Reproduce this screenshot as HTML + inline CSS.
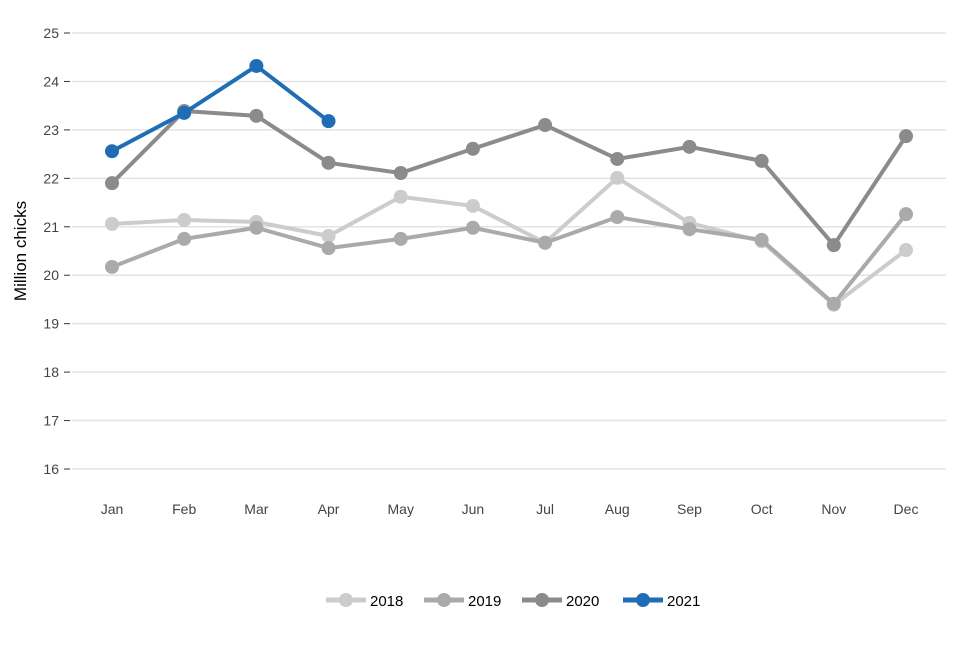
<!DOCTYPE html>
<html><head><meta charset="utf-8"><style>
body{margin:0;background:#fff;font-family:"Liberation Sans",sans-serif}
svg text{font-family:"Liberation Sans",sans-serif}
</style></head><body>
<svg id="c" width="960" height="640"></svg>
<script>
const months=["Jan","Feb","Mar","Apr","May","Jun","Jul","Aug","Sep","Oct","Nov","Dec"];
const yTicks=[16,17,18,19,20,21,22,23,24,25];
const years=["2018","2019","2020","2021"];
const colors=["#cccccc","#aaaaaa","#8c8a8a","#1f6db5"];
const s2018=[21.06,21.14,21.1,20.81,21.62,21.43,20.67,22.01,21.08,20.7,19.39,20.52];
const s2019=[20.17,20.75,20.98,20.56,20.75,20.98,20.67,21.2,20.95,20.73,19.41,21.26];
const s2020=[21.9,23.39,23.29,22.32,22.11,22.61,23.1,22.4,22.65,22.36,20.62,22.87];
const s2021=[22.56,23.35,24.32,23.18];
const series=[s2018,s2019,s2020,s2021];
const NS="http://www.w3.org/2000/svg",svg=document.getElementById('c');
const x=i=>112+i*(906-112)/11, y=v=>469-(v-16)*(469-33)/9;
function mk(t,a,p){const e=document.createElementNS(NS,t);for(const k in a)e.setAttribute(k,a[k]);(p||svg).appendChild(e);return e;}
yTicks.forEach(t=>{
 const g=mk('line',{x1:72,x2:946,y1:y(t),y2:y(t),stroke:'#e3e3e3','stroke-width':1.5});
 
 
 const tk=mk('line',{x1:64,x2:70,y1:y(t),y2:y(t),stroke:'#333','stroke-width':1});
 
 
 const l=mk('text',{x:59,y:y(t)+5,'text-anchor':'end','font-size':14,fill:'#444'});l.textContent=t;
 
 
});
months.forEach((m,i)=>{const l=mk('text',{x:x(i),y:514,'text-anchor':'middle','font-size':14,fill:'#444'});l.textContent=m;
 
 });
const yt=mk('text',{transform:'translate(26,251) rotate(-90)','text-anchor':'middle','font-size':17,fill:'#000'});yt.textContent='Million chicks';


series.forEach((s,k)=>{
 const g=mk('g',{});
 
 
 mk('polyline',{points:s.map((v,i)=>x(i)+','+y(v)).join(' '),fill:'none',stroke:colors[k],'stroke-width':4,'stroke-linejoin':'round'},g);
 s.forEach((v,i)=>{const c=mk('circle',{cx:x(i),cy:y(v),r:7,fill:colors[k]},g);
  
  });
});
const lx=[346,444,542,643];
years.forEach((yr,k)=>{
 const g=mk('g',{});
 
 
 mk('line',{x1:lx[k]-20,x2:lx[k]+20,y1:600,y2:600,stroke:colors[k],'stroke-width':5},g);
 mk('circle',{cx:lx[k],cy:600,r:7,fill:colors[k]},g);
 const t=mk('text',{x:lx[k]+24,y:606,'font-size':15,fill:'#000'},g);t.textContent=yr;
});
</script>
</body></html>
